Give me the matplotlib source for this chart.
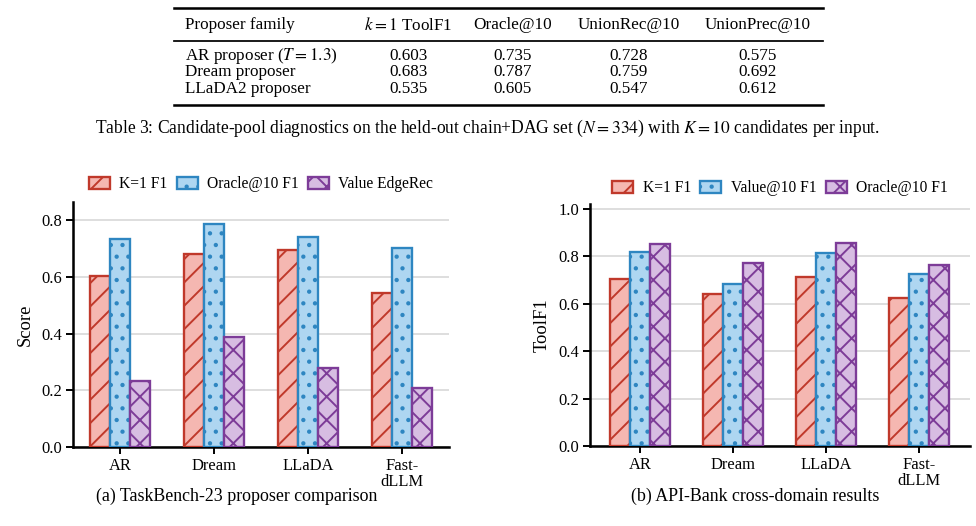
import numpy as np
import matplotlib
matplotlib.use("Agg")
import matplotlib.pyplot as plt
from matplotlib.lines import Line2D

plt.rcParams['font.family'] = ['Liberation Serif', 'DejaVu Serif']
plt.rcParams['mathtext.fontset'] = 'stix'
plt.rcParams['hatch.linewidth'] = 1.0

# --- Table 3 data ---
tab_header = ['Proposer family', r'$k{=}1$ ToolF1', 'Oracle@10', 'UnionRec@10', 'UnionPrec@10']
tab_proposers = [r'AR proposer ($T{=}1.3$)', 'Dream proposer', 'LLaDA2 proposer']
tab_toolf1 = [0.603, 0.683, 0.535]
tab_oracle = [0.735, 0.787, 0.605]
tab_unionrec = [0.728, 0.759, 0.547]
tab_unionprec = [0.575, 0.692, 0.612]

# --- Panel (a): TaskBench-23 ---
categories = ['AR', 'Dream', 'LLaDA', 'Fast-\ndLLM']
a_labels = ['K=1 F1', 'Oracle@10 F1', 'Value EdgeRec']
a_k1 = [0.603, 0.683, 0.694, 0.543]
a_oracle = [0.735, 0.787, 0.742, 0.701]
a_value = [0.234, 0.389, 0.280, 0.207]

# --- Panel (b): API-Bank ---
b_labels = ['K=1 F1', 'Value@10 F1', 'Oracle@10 F1']
b_k1 = [0.705, 0.640, 0.712, 0.622]
b_value = [0.817, 0.681, 0.813, 0.724]
b_oracle = [0.851, 0.771, 0.857, 0.765]

RED = ('#f5b7b1', '#c0392b', '//')
BLUE = ('#aed6f1', '#2e86c1', '..')
PURPLE = ('#d7bde2', '#7d3c98', 'xx')

W, H = 976, 526
DPI = 140


def fx(px):
    return px / W


def fy(py):
    return 1 - py / H


def draw_panel(ax, series, labels, styles, ylim, yticks, ylabel, legend_y):
    x = np.arange(len(categories))
    width = 0.215
    for i, (vals, lab, st) in enumerate(zip(series, labels, styles)):
        ax.bar(x + (i - 1) * width, vals, width, label=lab,
               facecolor=st[0], edgecolor=st[1], hatch=st[2],
               linewidth=1.2, zorder=3)
    ax.set_ylim(*ylim)
    ax.set_yticks(yticks)
    ax.set_yticklabels([f'{t:.1f}' for t in yticks])
    ax.set_xticks(x)
    ax.set_xticklabels(categories, linespacing=1.05)
    ax.yaxis.grid(True, color='#dedede', linewidth=1.0, zorder=0)
    ax.set_axisbelow(True)
    for s in ['top', 'right']:
        ax.spines[s].set_visible(False)
    for s in ['left', 'bottom']:
        ax.spines[s].set_linewidth(1.3)
    ax.tick_params(axis='both', labelsize=8.5, width=1.0, length=3.5, pad=2)
    ax.set_ylabel(ylabel, fontsize=9.5, labelpad=4)
    ax.legend(ncol=3, loc='center', bbox_to_anchor=(0.5, legend_y), frameon=False,
              fontsize=8, handlelength=1.35, handleheight=0.8,
              columnspacing=0.6, handletextpad=0.6)


fig = plt.figure(figsize=(W / DPI, H / DPI), dpi=DPI)

# --- table drawn with text and rules ---
tab_left, tab_right = 174, 823
for y, lw in [(8, 1.3), (41, 0.9), (105, 1.3)]:
    fig.add_artist(Line2D([fx(tab_left), fx(tab_right)], [fy(y), fy(y)], color='black', lw=lw))

col_x = [185, 408, 513, 629, 758]
rows_y = [56, 72.5, 89]
fs_tab = 8.8
fig.text(fx(col_x[0]), fy(25), tab_header[0], ha='left', va='center', fontsize=fs_tab)
for cx, h in zip(col_x[1:], tab_header[1:]):
    fig.text(fx(cx), fy(25), h, ha='center', va='center', fontsize=fs_tab)
for i, ry in enumerate(rows_y):
    fig.text(fx(col_x[0]), fy(ry), tab_proposers[i], ha='left', va='center', fontsize=fs_tab)
    vals = [tab_toolf1[i], tab_oracle[i], tab_unionrec[i], tab_unionprec[i]]
    for cx, v in zip(col_x[1:], vals):
        fig.text(fx(cx), fy(ry), f'{v:.3f}', ha='center', va='center', fontsize=fs_tab)

fig.text(0.5, fy(128),
         r'Table 3: Candidate-pool diagnostics on the held-out chain+DAG set ($N{=}334$) '
         r'with $K{=}10$ candidates per input.',
         ha='center', va='center', fontsize=9)

# --- bar panels ---
ax1 = fig.add_axes([fx(73), fy(447), fx(449) - fx(73), fy(202) - fy(447)])
draw_panel(ax1, [a_k1, a_oracle, a_value], a_labels, [RED, BLUE, PURPLE],
           (0, 0.865), [0.0, 0.2, 0.4, 0.6, 0.8], 'Score', 1.073)
ax1.set_xlim(-0.5, 3.5)

ax2 = fig.add_axes([fx(590), fy(446), fx(970) - fx(590), fy(204) - fy(446)])
draw_panel(ax2, [b_k1, b_value, b_oracle], b_labels, [RED, BLUE, PURPLE],
           (0, 1.02), [0.0, 0.2, 0.4, 0.6, 0.8, 1.0], 'ToolF1', 1.066)
ax2.set_xlim(-0.54, 3.55)

fig.text(fx(237), fy(496), '(a) TaskBench-23 proposer comparison', ha='center', va='center', fontsize=9.2)
fig.text(fx(755), fy(496), '(b) API-Bank cross-domain results', ha='center', va='center', fontsize=9.2)

fig.savefig('out.png', dpi=DPI)
